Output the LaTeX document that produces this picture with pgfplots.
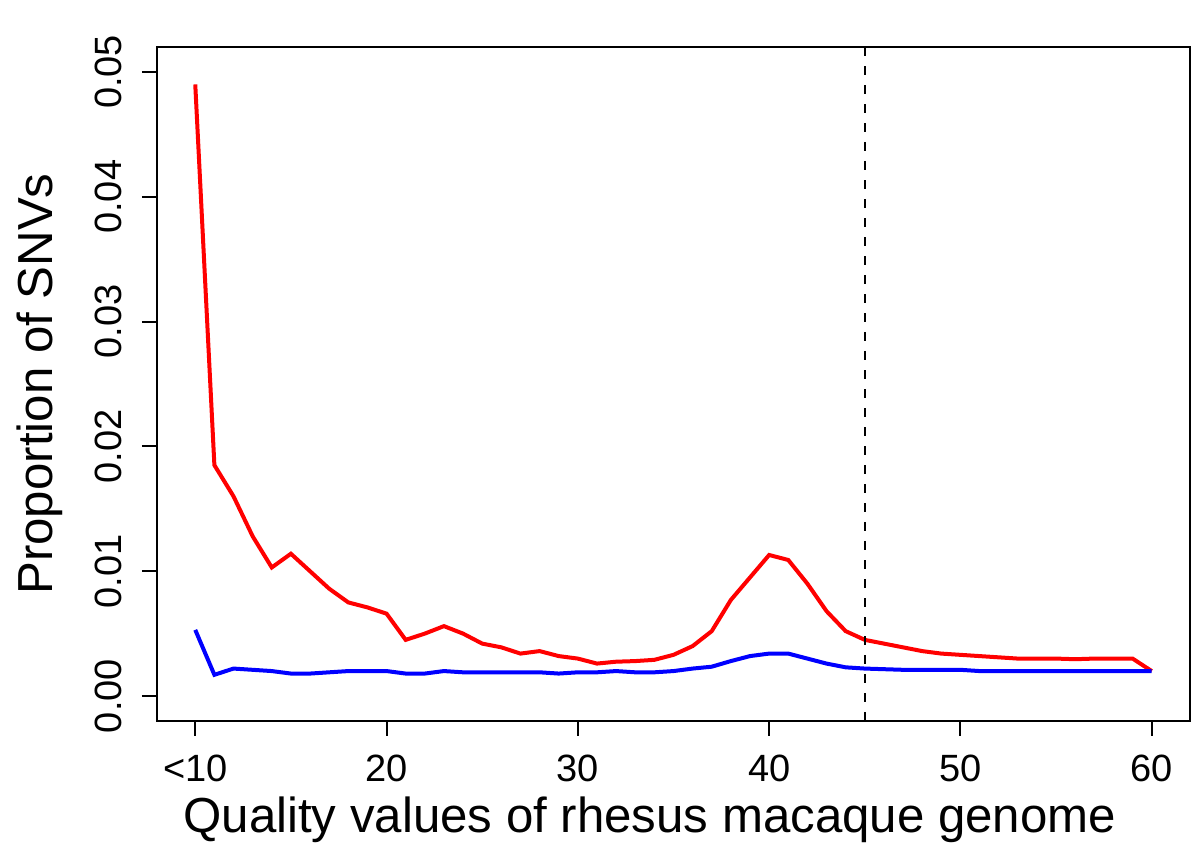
\documentclass[border=0pt]{standalone}
\usepackage{fontspec}
\setmainfont{Liberation Sans}
\usepackage{pgfplots}
\pgfplotsset{compat=1.18}

\pgfplotstableread{
q     red      blue
10    0.0490   0.0053
11    0.0185   0.0017
12    0.0160   0.0022
13    0.0128   0.0021
14    0.0103   0.0020
15    0.0114   0.0018
16    0.0100   0.0018
17    0.0086   0.0019
18    0.0075   0.0020
19    0.0071   0.0020
20    0.0066   0.0020
21    0.0045   0.0018
22    0.0050   0.0018
23    0.0056   0.0020
24    0.0050   0.0019
25    0.0042   0.0019
26    0.0039   0.0019
27    0.0034   0.0019
28    0.0036   0.0019
29    0.0032   0.0018
30    0.0030   0.0019
31    0.0026   0.0019
32    0.00275  0.0020
33    0.0028   0.0019
34    0.0029   0.0019
35    0.0033   0.0020
36    0.0040   0.0022
37    0.0052   0.00235
38    0.0077   0.0028
39    0.0095   0.0032
40    0.0113   0.0034
41    0.0109   0.0034
42    0.0090   0.0030
43    0.0068   0.0026
44    0.0052   0.0023
45    0.0045   0.0022
46    0.0042   0.00215
47    0.0039   0.0021
48    0.0036   0.0021
49    0.0034   0.0021
50    0.0033   0.0021
51    0.0032   0.0020
52    0.0031   0.0020
53    0.0030   0.0020
54    0.0030   0.0020
55    0.0030   0.0020
56    0.00295  0.0020
57    0.0030   0.0020
58    0.0030   0.0020
59    0.0030   0.0020
60    0.0020   0.0020
}\snvdata

\begin{document}
\begin{tikzpicture}
\begin{axis}[
    scale only axis,
    width=516.5pt,
    height=337pt,
    xmin=8, xmax=62,
    ymin=-0.002, ymax=0.052,
    axis line style={line width=1pt},
    xtick={10,20,30,40,50,60},
    xticklabels={<10,20,30,40,50,60},
    ytick={0,0.01,0.02,0.03,0.04,0.05},
    yticklabels={0.00,0.01,0.02,0.03,0.04,0.05},
    scaled y ticks=false,
    tick pos=left,
    tick align=outside,
    major tick length=7.5pt,
    every tick/.style={black, line width=1pt},
    tick label style={font=\fontsize{19}{19}\selectfont},
    xticklabel style={anchor=base},
    xticklabel shift=23pt,
    yticklabel style={rotate=90, anchor=base},
    yticklabel shift=10pt,
    xlabel={Quality values of rhesus macaque genome},
    ylabel={Proportion of SNVs},
    label style={font=\fontsize{24.6}{24.6}\selectfont},
    xlabel style={at={(axis description cs:0.477,0)}, anchor=base, yshift=-56pt},
    ylabel style={at={(axis description cs:0,0.5)}, anchor=base, rotate=0, yshift=52pt},
]
\addplot[red, line width=2pt] table[x=q, y=red] {\snvdata};
\addplot[blue, line width=2pt] table[x=q, y=blue] {\snvdata};
\addplot[black, line width=1pt, dash pattern=on 4.5pt off 5pt] coordinates {(45,-0.002) (45,0.052)};
\end{axis}
\pgfresetboundingbox
\path[use as bounding box] (-78.5pt,-64pt) rectangle (521.5pt,360.5pt);
\end{tikzpicture}
\end{document}
